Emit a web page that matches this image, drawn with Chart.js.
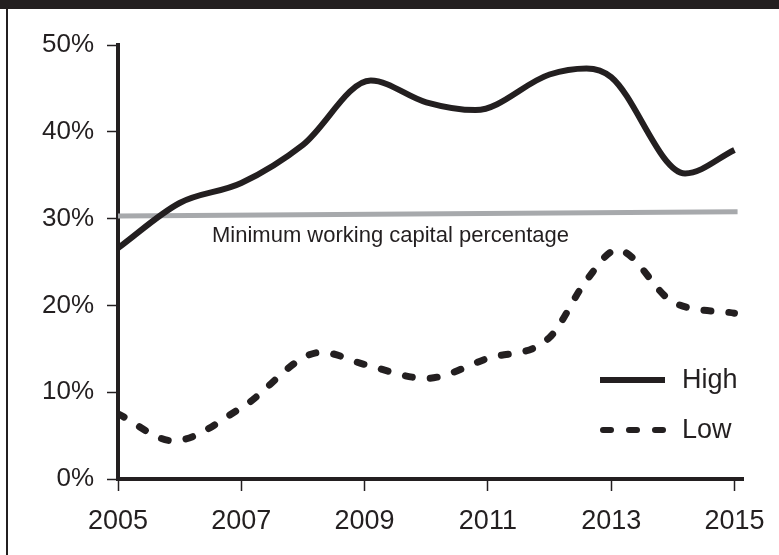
<!DOCTYPE html>
<html>
<head>
<meta charset="utf-8">
<script src="https://cdn.jsdelivr.net/npm/chart.js@4"></script>
<style>
  html, body { margin: 0; padding: 0; background: #fff; }
  #wrap { position: relative; width: 779px; height: 555px; }
</style>
</head>
<body>
<div id="wrap"><canvas id="grafico" width="779" height="555"></canvas></div>
<script>
// datos
var highX = [2005, 2006, 2007, 2008, 2009.1, 2010, 2010.8, 2012, 2012.6, 2013, 2014.2, 2015];
var highY = [26.6, 31.8, 34.1, 38.5, 45.9, 43.4, 42.5, 46.6, 47.3, 46.3, 35.2, 37.9];
var lowX = [2005, 2005.9, 2007, 2008.3, 2009, 2010, 2011, 2012, 2012.6, 2013.1, 2014, 2015];
var lowY = [7.5, 4.4, 8.2, 14.6, 13.2, 11.6, 13.9, 16.3, 22.9, 26.4, 20.4, 19.1];
var minX = [2005, 2015.05];
var minY = [30.3, 30.8];
var xTicks = [2005, 2007, 2009, 2011, 2013, 2015];
var yTicks = [0, 10, 20, 30, 40, 50];

var negro = '#231f20';
var fuente = '"Liberation Sans", Arial, sans-serif';

function puntos(xs, ys) {
  return xs.map(function (x, i) { return { x: x, y: ys[i] }; });
}

// leyenda y etiqueta dibujadas a mano dentro del area
var extras = {
  id: 'extras',
  afterDraw: function (chart) {
    var ctx = chart.ctx;
    ctx.save();
    // barra superior y borde izquierdo
    ctx.fillStyle = negro;
    ctx.fillRect(0, 0, 779, 9);
    ctx.fillRect(6, 9, 2, 546);

    ctx.font = '22px ' + fuente;
    ctx.textBaseline = 'alphabetic';
    ctx.fillText('Minimum working capital percentage', 212, 242);

    var items = chart.data.datasets.slice(0, 2);
    items.forEach(function (ds, i) {
      var y = 380 + i * 50;
      ctx.strokeStyle = negro;
      ctx.lineWidth = 6;
      ctx.lineCap = ds.borderDash ? 'round' : 'butt';
      ctx.setLineDash(ds.borderDash ? [8, 18] : []);
      ctx.beginPath();
      ctx.moveTo(ds.borderDash ? 603 : 600, y);
      ctx.lineTo(665, y);
      ctx.stroke();
      ctx.setLineDash([]);
      ctx.font = '27px ' + fuente;
      ctx.textBaseline = 'middle';
      ctx.fillText(ds.label, 682, y + 1);
    });
    ctx.restore();
  }
};

var idhtml = document.getElementById('grafico').getContext('2d');
var g_lineas = new Chart(idhtml, {
  type: 'line',
  data: {
    datasets: [
      {
        label: 'High',
        data: puntos(highX, highY),
        borderColor: negro,
        borderWidth: 6,
        cubicInterpolationMode: 'monotone',
        pointRadius: 0
      },
      {
        label: 'Low',
        data: puntos(lowX, lowY),
        borderColor: negro,
        borderWidth: 7,
        borderDash: [7, 18],
        borderCapStyle: 'round',
        cubicInterpolationMode: 'monotone',
        pointRadius: 0
      },
      {
        label: 'Minimum',
        data: puntos(minX, minY),
        borderColor: '#a7a9ac',
        borderWidth: 5,
        pointRadius: 0,
        order: 5
      }
    ]
  },
  plugins: [extras],
  options: {
    responsive: false,
    animation: false,
    layout: { padding: { left: 0, top: 45, right: 34, bottom: 0 } },
    plugins: { legend: { display: false }, tooltip: { enabled: false } },
    scales: {
      x: {
        type: 'linear',
        min: 2005,
        max: 2015.15,
        afterBuildTicks: function (s) { s.ticks = xTicks.map(function (v) { return { value: v }; }); },
        afterFit: function (s) { s.height = 76; },
        border: { display: true, color: negro, width: 4 },
        grid: { drawOnChartArea: false, drawTicks: true, tickLength: 12, tickColor: negro, tickWidth: 1.5 },
        ticks: {
          color: negro, padding: 14,
          font: { family: fuente, size: 27 },
          callback: function (v) { return String(v); }
        }
      },
      y: {
        min: 0,
        max: 50,
        afterBuildTicks: function (s) { s.ticks = yTicks.map(function (v) { return { value: v }; }); },
        afterFit: function (s) { s.width = 118; },
        border: { display: true, color: negro, width: 4 },
        grid: { drawOnChartArea: false, drawTicks: true, tickLength: 11, tickColor: negro, tickWidth: 1.5 },
        ticks: {
          color: negro, padding: 13,
          font: { family: fuente, size: 26 },
          callback: function (v) { return v + '%'; }
        }
      }
    }
  }
});
</script>
</body>
</html>
